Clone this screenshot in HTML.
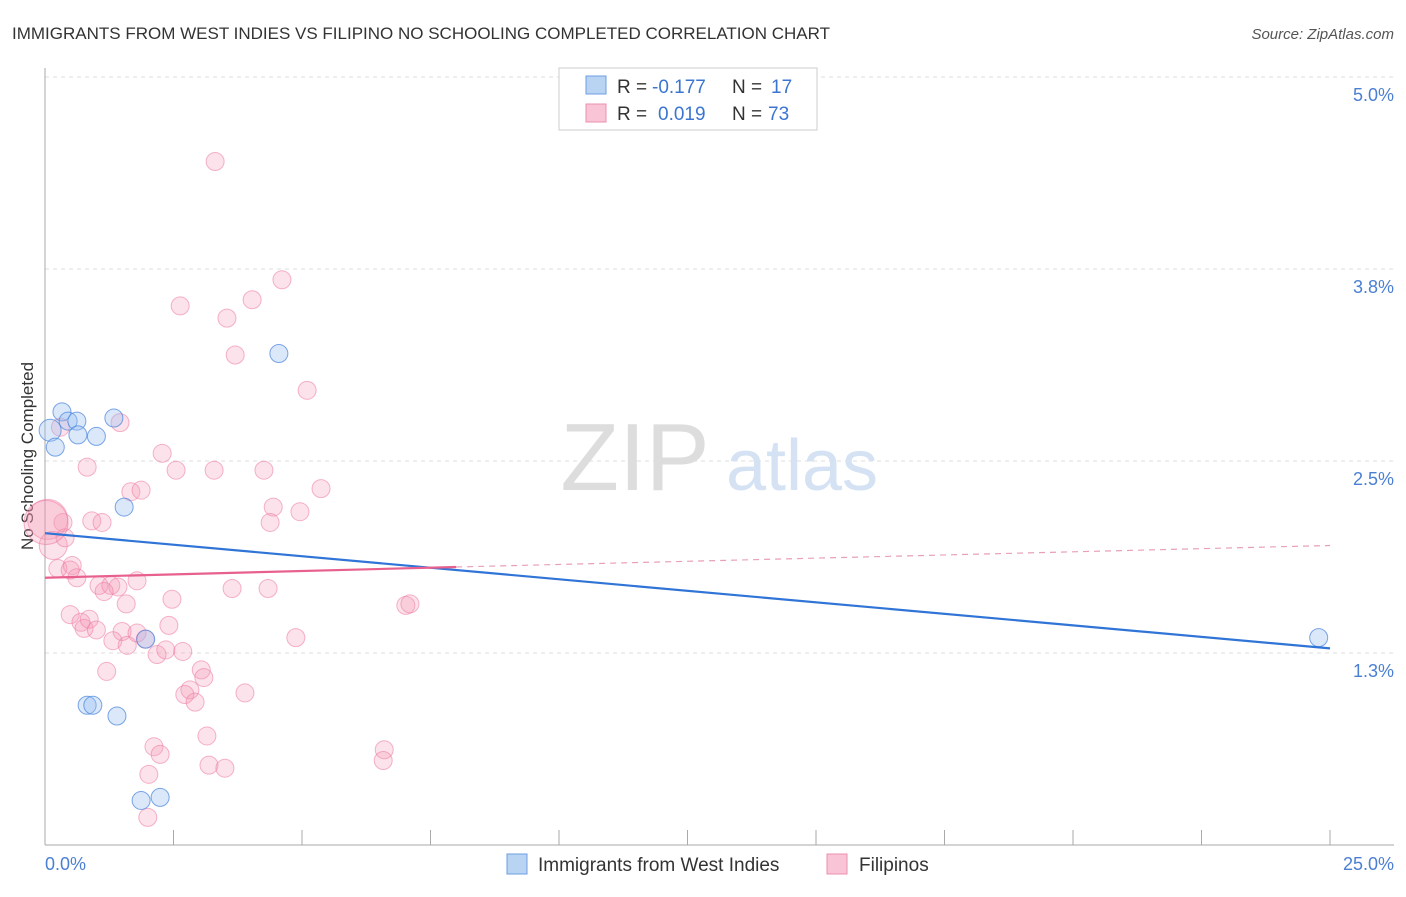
<!DOCTYPE html>
<html><head><meta charset="utf-8"><style>
body{margin:0;background:#fff;font-family:"Liberation Sans",sans-serif;}
svg text{font-family:"Liberation Sans",sans-serif;}
</style></head><body>
<svg width="1406" height="892">
<text x="12" y="39" font-size="17" fill="#333">IMMIGRANTS FROM WEST INDIES VS FILIPINO NO SCHOOLING COMPLETED CORRELATION CHART</text>
<text x="1394" y="39" font-size="15" fill="#555" font-style="italic" text-anchor="end">Source: ZipAtlas.com</text>
<g id="grid"></g>
<text x="635" y="490" font-size="96" fill="#ddd" font-family="Liberation Serif" text-anchor="middle">ZIP</text>
<text x="802" y="490" font-size="72" fill="#d4e2f4" text-anchor="middle">atlas</text>
<line x1="45" y1="68" x2="45" y2="845" stroke="#aaa"/>
<line x1="45" y1="845" x2="1394" y2="845" stroke="#aaa"/>
<text x="33" y="456" font-size="17" fill="#333" text-anchor="middle" transform="rotate(-90 33 456)">No Schooling Completed</text>
<text x="45" y="870" font-size="18" fill="#4a7fd4">0.0%</text>
<text x="1394" y="870" font-size="18" fill="#4a7fd4" text-anchor="end">25.0%</text>
<g id="pts"></g>
<g id="lines"></g>
<g>
<rect x="559" y="68" width="258" height="62" fill="#fff" stroke="#ccc"/>
<rect x="586" y="76" width="20" height="18" fill="#b9d3f3" stroke="#6d9de0"/>
<rect x="586" y="104" width="20" height="18" fill="#f9c5d6" stroke="#ec8fb0"/>
<text x="617" y="93" font-size="19" fill="#333">R =</text>
<text x="652" y="93" font-size="19" fill="#3b75d1">-0.177</text>
<text x="732" y="93" font-size="19" fill="#333">N =</text>
<text x="771" y="93" font-size="19" fill="#3b75d1">17</text>
<text x="617" y="120" font-size="19" fill="#333">R =</text>
<text x="658" y="120" font-size="19" fill="#3b75d1">0.019</text>
<text x="732" y="120" font-size="19" fill="#333">N =</text>
<text x="768" y="120" font-size="19" fill="#3b75d1">73</text>
</g>
<g>
<rect x="507" y="854" width="20" height="20" fill="#b9d3f3" stroke="#6d9de0"/>
<text x="538" y="871" font-size="19" fill="#333">Immigrants from West Indies</text>
<rect x="827" y="854" width="20" height="20" fill="#f9c5d6" stroke="#ec8fb0"/>
<text x="859" y="871" font-size="19" fill="#333">Filipinos</text>
</g>
</svg>
<script>
const yTicks=[1.25,2.5,3.75,5.0];
const yTickLabels=["1.3%","2.5%","3.8%","5.0%"];
const xTicks=[0,2.5,5,7.5,10,12.5,15,17.5,20,22.5,25];
const blueX=[0.1,0.33,0.45,0.62,0.64,0.2,1.0,1.34,1.54,4.55,1.96,0.82,0.93,1.4,1.87,2.24,24.78];
const blueY=[2.7,2.82,2.76,2.76,2.67,2.59,2.66,2.78,2.2,3.2,1.34,0.91,0.91,0.84,0.29,0.31,1.35];
const blueR=[11,9,9,9,9,9,9,9,9,9,9,9,9,9,9,9,9];
const pinkX=[3.31,4.61,4.03,2.63,3.54,3.7,5.1,1.46,2.28,0.82,2.55,3.29,4.26,1.67,1.87,5.37,4.44,4.96,0.35,0.91,1.11,4.38,0.05,0.16,0.39,0.25,0.53,0.62,0.49,1.05,1.28,1.42,1.79,1.15,1.58,2.47,3.64,4.34,7.02,7.1,0.49,0.7,0.76,0.86,1.0,1.5,1.79,1.32,1.6,1.95,2.41,2.18,2.35,2.68,4.88,1.2,3.04,3.09,2.82,2.72,2.92,3.89,3.15,2.12,2.24,6.6,6.58,3.19,3.5,2.02,2.0,0.02,0.3];
const pinkY=[4.45,3.68,3.55,3.51,3.43,3.19,2.96,2.75,2.55,2.46,2.44,2.44,2.44,2.3,2.31,2.32,2.2,2.17,2.1,2.11,2.1,2.1,2.12,1.95,2.0,1.8,1.82,1.74,1.79,1.69,1.69,1.68,1.72,1.65,1.57,1.6,1.67,1.67,1.56,1.57,1.5,1.45,1.41,1.47,1.4,1.39,1.38,1.33,1.3,1.34,1.43,1.24,1.27,1.26,1.35,1.13,1.14,1.09,1.01,0.98,0.93,0.99,0.71,0.64,0.59,0.62,0.55,0.52,0.5,0.46,0.18,2.1,2.72];
const pinkR=[9,9,9,9,9,9,9,9,9,9,9,9,9,9,9,9,9,9,9,9,9,9,20,14,9,9,9,9,9,9,9,9,9,9,9,9,9,9,9,9,9,9,9,9,9,9,9,9,9,9,9,9,9,9,9,9,9,9,9,9,9,9,9,9,9,9,9,9,9,9,9,22,9];
const blueTrend=[2.03,1.28];
const pinkTrend=[1.74,1.81,1.95];
const pinkSolidEnd=8.0;
const X=v=>45+v*51.4, Y=v=>845-v*153.6;
const NS="http://www.w3.org/2000/svg";
function mk(tag,attrs,parent){const e=document.createElementNS(NS,tag);for(const k in attrs)e.setAttribute(k,attrs[k]);parent.appendChild(e);return e;}
const grid=document.getElementById('grid');
yTicks.forEach((t,i)=>{
 const l=mk('line',{x1:45,x2:1394,y1:Y(t),y2:Y(t),stroke:'#ddd','stroke-dasharray':'4,4'},grid);
 
 
 const tx=mk('text',{x:1394,y:Y(t)+24,'font-size':18,fill:'#4a7fd4','text-anchor':'end'},grid);
 tx.textContent=yTickLabels[i];
 
 
});
xTicks.forEach(t=>{
 const l=mk('line',{x1:X(t),x2:X(t),y1:830,y2:845,stroke:'#aaa'},grid);
 
 
});
const pts=document.getElementById('pts');
pinkX.forEach((v,i)=>{
 const c=mk('circle',{cx:X(v),cy:Y(pinkY[i]),r:pinkR[i],fill:'rgba(244,150,180,0.28)',stroke:'rgba(236,120,160,0.55)','stroke-width':1},pts);
 
 
});
blueX.forEach((v,i)=>{
 const c=mk('circle',{cx:X(v),cy:Y(blueY[i]),r:blueR[i],fill:'rgba(150,190,240,0.35)',stroke:'rgba(70,130,220,0.7)','stroke-width':1},pts);
 
 
});
const lines=document.getElementById('lines');
const bl=mk('line',{x1:X(0),y1:Y(blueTrend[0]),x2:X(25),y2:Y(blueTrend[1]),stroke:'#2f74d6','stroke-width':2.2},lines);


const pl=mk('line',{x1:X(0),y1:Y(pinkTrend[0]),x2:X(pinkSolidEnd),y2:Y(pinkTrend[1]),stroke:'#e8608e','stroke-width':2.2},lines);


const pd=mk('line',{x1:X(pinkSolidEnd),y1:Y(pinkTrend[1]),x2:X(25),y2:Y(pinkTrend[2]),stroke:'#e8a0b8','stroke-width':1.2,'stroke-dasharray':'6,5'},lines);


</script>
</body></html>
